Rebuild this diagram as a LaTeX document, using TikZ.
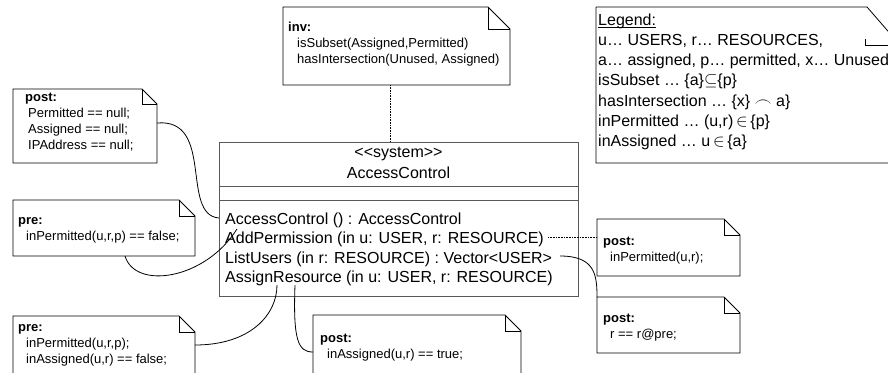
\documentclass[tikz,border=0pt]{standalone}
\usepackage{fontspec}
\setmainfont{Liberation Sans}
\usetikzlibrary{calc}
% UML note outline with a folded top-right corner
\newcommand{\drawumlnote}[2]{%
  \draw[noteline] (#1.north west) -- ([xshift=-#2]#1.north east) -- ([yshift=-#2]#1.north east)
    -- (#1.south east) -- (#1.south west) -- cycle;
  \draw[noteline] ([xshift=-#2]#1.north east) |- ([yshift=-#2]#1.north east);
}
\begin{document}
\begin{tikzpicture}[x=1pt,y=-1pt,
  noteline/.style={draw=black, line width=0.8pt},
  notebody/.style={anchor=north west, inner sep=0pt, outer sep=0pt},
  classline/.style={draw=black!65, line width=0.9pt},
  txtsmall/.style={anchor=north west, inner sep=0pt, align=left, font=\fontsize{13}{16}\selectfont},
  txtbig/.style={inner sep=0pt, align=left, font=\fontsize{16}{19.5}\selectfont},
  txtlegend/.style={inner sep=0pt, align=left, font=\fontsize{16}{20.2}\selectfont},
  link/.style={draw=black, line width=0.8pt},
  dottedlink/.style={draw=black, line width=0.9pt, dash pattern=on 1pt off 0.6pt}]
\clip (0,0) rectangle (888,372);
\fill[white] (0,0) rectangle (888,372);

% ---- notes ----
\node[notebody, minimum width=227pt, minimum height=78pt] (inv) at (283,7) {};
\drawumlnote{inv}{22pt}
\node[txtsmall] (invtext) at (288,20.3) {\strut\textbf{inv:}\\
  \hspace*{9pt}isSubset(Assigned,Permitted)\\
  \hspace*{9pt}hasIntersection(Unused, Assigned)};

\node[notebody, minimum width=144pt, minimum height=74pt] (postA) at (13,89) {};
\drawumlnote{postA}{15pt}
\node[txtsmall] (postAtext) at (25,89.8) {\strut\textbf{post:}\\
  \hspace*{3pt}Permitted == null;\\
  \hspace*{3pt}Assigned == null;\\
  \hspace*{3pt}IPAddress == null;};

\node[notebody, minimum width=182pt, minimum height=56pt] (preM) at (13,200) {};
\drawumlnote{preM}{16pt}
\node[txtsmall] (preMtext) at (18,213.3) {\strut\textbf{pre:}\\
  \hspace*{8pt}inPermitted(u,r,p) == false;};

\node[notebody, minimum width=182pt, minimum height=70pt] (preB) at (13,316) {};
\drawumlnote{preB}{16pt}
\node[txtsmall] (preBtext) at (18,319.8) {\strut\textbf{pre:}\\
  \hspace*{8pt}inPermitted(u,r,p);\\
  \hspace*{8pt}inAssigned(u,r) == false;};

\node[notebody, minimum width=208pt, minimum height=70pt] (postB) at (313,315) {};
\drawumlnote{postB}{16pt}
\node[txtsmall] (postBtext) at (320,330.8) {\strut\textbf{post:}\\
  \hspace*{7pt}inAssigned(u,r) == true;};

\node[notebody, minimum width=143pt, minimum height=57pt] (postR1) at (597,219) {};
\drawumlnote{postR1}{16pt}
\node[txtsmall] (postR1text) at (603,233.8) {\strut\textbf{post:}\\
  \hspace*{7pt}inPermitted(u,r);};

\node[notebody, minimum width=143pt, minimum height=56pt] (postR2) at (597,297) {};
\drawumlnote{postR2}{16pt}
\node[txtsmall] (postR2text) at (603,310.8) {\strut\textbf{post:}\\
  \hspace*{7pt}r == r@pre;};

% legend note (runs past the right border)
\node[notebody, minimum width=310pt, minimum height=156pt] (legend) at (596,7) {};
\draw[noteline] (legend.north west) -- ++(271,0) -- ++(33,38)
  (legend.north west) -- (legend.south west) -- (legend.south east);
\draw[noteline] ($(legend.north west)+(269,32)$) |- ++(40,6);
\node[txtlegend, anchor=base west] (legendhead) at (598,25) {Legend:};
\draw[black, line width=0.7pt] ([yshift=-2.2pt]legendhead.base west) -- ([yshift=-2.2pt]legendhead.base east);
\node[txtlegend, anchor=north west] (legendtext) at (598,31.06) {\strut u… USERS, r… RESOURCES,\\
  a… assigned, p… permitted, x… Unused\\
  isSubset … \{a\}$\subseteq$\{p\}\\
  hasIntersection … \{x\} $\frown$ a\}\\
  inPermitted … (u,r)$\,\in$\,\{p\}\\
  inAssigned … u$\,\in$\,\{a\}};

% ---- class ----
\node[notebody, minimum width=359pt, minimum height=154pt] (cls) at (219,142) {};
\draw[classline] (cls.north west) rectangle (cls.south east);
\draw[classline] ($(cls.north west)+(0,44)$) -- ($(cls.north east)+(0,44)$);
\draw[classline] ($(cls.north west)+(0,58)$) -- ($(cls.north east)+(0,58)$);
\node[txtbig] (stereo) at (398.5,154) {<{}<system>{}>};
\node[txtbig] (clsname) at (398.5,173) {AccessControl};
\node[txtbig, anchor=north west] (ops) at (225,210.35) {\strut AccessControl () : AccessControl\\
  AddPermission (in u: USER, r: RESOURCE)\\
  ListUsers (in r: RESOURCE) : Vector<USER>\\
  AssignResource (in u: USER, r: RESOURCE)};

% attachment points on the class
\coordinate (invfoot) at (390,85);
\coordinate (clstop) at (390,142);
\coordinate (ctorpt) at (219,218);
\coordinate (addpR) at (548,237);
\coordinate (addpL) at (237,229);
\coordinate (listR) at (560,256);
\coordinate (assignA) at (277,285);
\coordinate (assignB) at (295,285);
\coordinate (postAout) at (157,123);
\coordinate (preMout) at (125,256);
\coordinate (preBout) at (195,345);
\coordinate (postBin) at (313,352);
\coordinate (postR1in) at (597,237);
\coordinate (postR2in) at (597,297);

% ---- connectors ----
\draw[dottedlink] (invfoot) -- (clstop);
\draw[dottedlink] (addpR) -- (postR1in);
\draw[link] (postAout) .. controls (215,118) and (180,215) .. (ctorpt);
\draw[link] (preMout) .. controls (135,290) and (205,280) .. (addpL);
\draw[link] (preBout) .. controls (250,345) and (277,315) .. (assignA);
\draw[link] (assignB) .. controls (293,340) and (298,352) .. (postBin);
\draw[link] (listR) .. controls (595,256) and (597,275) .. (postR2in);
\end{tikzpicture}
\end{document}
